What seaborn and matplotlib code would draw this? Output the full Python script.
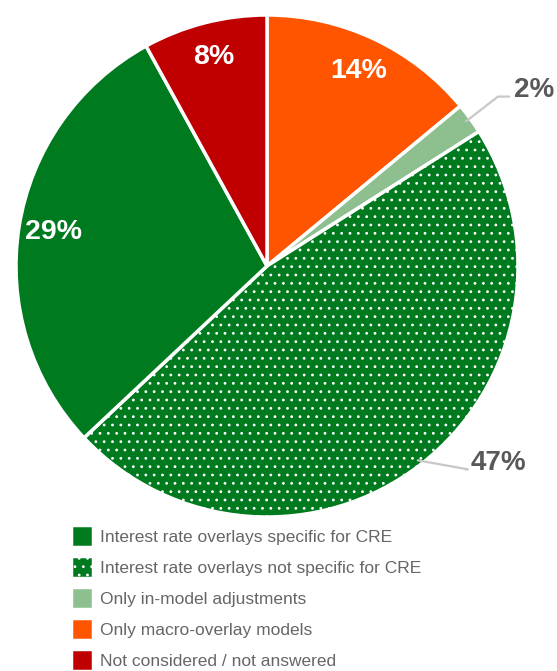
import numpy as np
import matplotlib
matplotlib.use("Agg")
import matplotlib.pyplot as plt
import seaborn as sns

labels = ["Only macro-overlay models", "Only in-model adjustments",
          "Interest rate overlays not specific for CRE",
          "Interest rate overlays specific for CRE",
          "Not considered / not answered"]
values = [14, 2, 47, 29, 8]
colors = ["#FF5500", "#8DBF8F", "#007A1E", "#007A1E", "#C00000"]
hatches = [None, None, "..", None, None]
legend_order = [3, 2, 1, 0, 4]

sns.set_style("white")
plt.rcParams["font.family"] = ["Liberation Sans", "DejaVu Sans"]
plt.rcParams["hatch.linewidth"] = 0.8

fig = plt.figure(figsize=(5.57, 6.71), dpi=100)
ax = fig.add_axes([16 / 557, 154 / 671, 502 / 557, 502 / 671])

wedges, _ = ax.pie(values, colors=colors, startangle=90, counterclock=False,
                   radius=1.0, wedgeprops=dict(edgecolor="white", linewidth=2.5))
for w, h in zip(wedges, hatches):
    if h:
        w.set_hatch(h)

# leader line elbows for the outside labels (axes units)
outside = {1: (0.92, 0.675, 0.965), 2: (0.80, -0.81, 0.79)}

for i, (w, v) in enumerate(zip(wedges, values)):
    ang = np.deg2rad((w.theta1 + w.theta2) / 2)
    x, y = np.cos(ang), np.sin(ang)
    txt = f"{v}%"
    if i not in outside:
        ax.text(0.86 * x, 0.86 * y, txt, ha="center", va="center",
                color="white", fontsize=20.5, fontweight="bold")
    else:
        mx, my, tx = outside[i]
        ax.plot([x * 0.98, mx, tx], [y * 0.98, my, my], color="#C8C8C8", lw=1.6,
                clip_on=False, solid_capstyle="round")
        ax.text(tx + 0.02, my + 0.025, txt, ha="left", va="center",
                color="#595959", fontsize=20, fontweight="bold")

ax.set_xlim(-1, 1)
ax.set_ylim(-1, 1)
ax.set_aspect("equal")
ax.axis("off")

leg = fig.legend([wedges[i] for i in legend_order], [labels[i] for i in legend_order],
                 loc="upper left", bbox_to_anchor=(64 / 557, 1 - 518 / 671),
                 frameon=False, fontsize=12.5, handlelength=1.25, handleheight=1.55,
                 labelspacing=0.54, handletextpad=0.45, borderaxespad=0)
for t in leg.get_texts():
    t.set_color("#666666")

fig.savefig("out.png", dpi=100)
